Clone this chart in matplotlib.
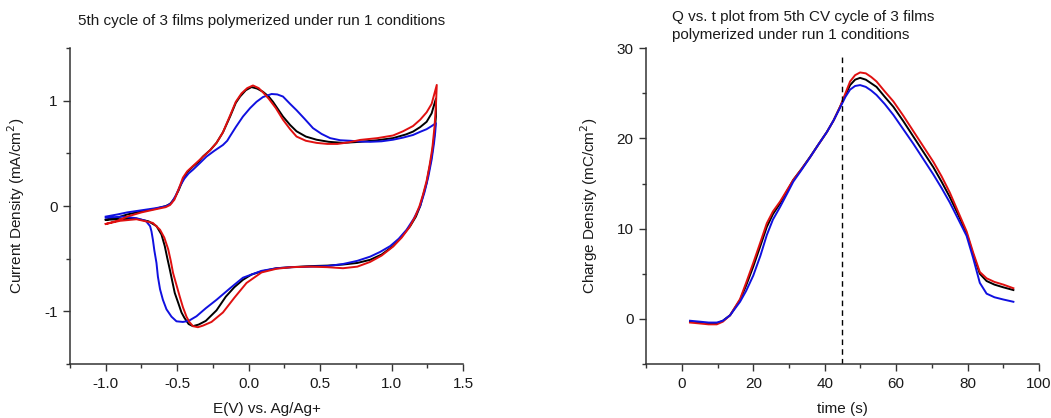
import matplotlib

matplotlib.use("Agg")
import matplotlib.pyplot as plt
from matplotlib.ticker import MultipleLocator

plt.rcParams["font.family"] = ["Liberation Sans", "DejaVu Sans"]

# 5th CV cycle: potential (V vs Ag/Ag+) and current density (mA/cm^2), anodic sweep then cathodic return
cv_black_e = [-1.00, -0.92, -0.85, -0.75, -0.65, -0.58, -0.55, -0.52, -0.49, -0.46, -0.43, -0.39,
              -0.35, -0.32, -0.27, -0.225, -0.18, -0.13, -0.09, -0.06, -0.02, 0.02, 0.06, 0.10,
              0.14, 0.17, 0.21, 0.24, 0.29, 0.335, 0.40, 0.475, 0.56, 0.66, 0.78, 0.90, 1.01, 1.10,
              1.15, 1.20, 1.245, 1.28, 1.31,
              1.31, 1.30, 1.28, 1.26, 1.245, 1.22, 1.20, 1.17, 1.13, 1.07, 1.01, 0.93, 0.85, 0.76,
              0.66, 0.55, 0.43, 0.30, 0.195, 0.09, 0.02, -0.04, -0.10, -0.16, -0.225, -0.30, -0.35,
              -0.39, -0.42, -0.45, -0.47, -0.49, -0.517, -0.535, -0.552, -0.57, -0.587, -0.61, -0.645,
              -0.70, -0.785, -0.90, -1.00]
cv_black_i = [-0.13, -0.11, -0.08, -0.05, -0.025, 0.00, 0.02, 0.07, 0.15, 0.25, 0.32, 0.375,
              0.42, 0.47, 0.53, 0.60, 0.70, 0.85, 0.98, 1.04, 1.10, 1.13, 1.115, 1.085,
              1.04, 0.99, 0.91, 0.85, 0.77, 0.71, 0.66, 0.63, 0.61, 0.60, 0.61, 0.625, 0.645, 0.68,
              0.707, 0.75, 0.80, 0.88, 1.02,
              0.85, 0.68, 0.47, 0.33, 0.22, 0.10, 0.00, -0.10, -0.19, -0.29, -0.38, -0.46, -0.51, -0.54,
              -0.555, -0.565, -0.57, -0.58, -0.59, -0.62, -0.65, -0.70, -0.77, -0.86, -0.99, -1.09, -1.125,
              -1.14, -1.12, -1.06, -1.01, -0.93, -0.825, -0.71, -0.60, -0.49, -0.38, -0.27, -0.19,
              -0.145, -0.12, -0.125, -0.13]

cv_red_e = [-1.00, -0.92, -0.85, -0.75, -0.65, -0.58, -0.55, -0.52, -0.49, -0.46, -0.43, -0.39,
            -0.35, -0.31, -0.27, -0.225, -0.18, -0.13, -0.09, -0.05, -0.01, 0.03, 0.07, 0.10,
            0.14, 0.19, 0.24, 0.29, 0.335, 0.40, 0.475, 0.55, 0.62, 0.70, 0.78, 0.90, 1.01, 1.08,
            1.15, 1.20, 1.245, 1.28, 1.316,
            1.31, 1.30, 1.285, 1.265, 1.245, 1.22, 1.195, 1.165, 1.125, 1.07, 1.01, 0.93, 0.85, 0.76,
            0.66, 0.55, 0.43, 0.30, 0.195, 0.09, -0.015, -0.10, -0.18, -0.26, -0.32, -0.355, -0.39,
            -0.415, -0.435, -0.46, -0.482, -0.505, -0.529, -0.545, -0.563, -0.59, -0.62, -0.67,
            -0.785, -0.90, -1.00]
cv_red_i = [-0.17, -0.14, -0.10, -0.06, -0.03, -0.01, 0.01, 0.06, 0.16, 0.27, 0.33, 0.38,
            0.43, 0.48, 0.53, 0.60, 0.70, 0.86, 0.99, 1.07, 1.12, 1.145, 1.12, 1.08,
            1.02, 0.93, 0.82, 0.73, 0.66, 0.62, 0.60, 0.59, 0.59, 0.605, 0.628, 0.645, 0.67, 0.71,
            0.76, 0.82, 0.89, 0.97, 1.15,
            0.95, 0.75, 0.55, 0.38, 0.24, 0.11, 0.00, -0.10, -0.20, -0.30, -0.385, -0.47, -0.53, -0.575,
            -0.59, -0.58, -0.575, -0.58, -0.595, -0.63, -0.73, -0.87, -1.01, -1.10, -1.135, -1.15, -1.14,
            -1.10, -1.05, -0.96, -0.86, -0.75, -0.635, -0.52, -0.41, -0.30, -0.225, -0.16,
            -0.125, -0.14, -0.17]

cv_blue_e = [-1.00, -0.92, -0.85, -0.75, -0.65, -0.575, -0.54, -0.51, -0.48, -0.45, -0.42, -0.39,
             -0.34, -0.295, -0.24, -0.18, -0.15, -0.132, -0.09, -0.04, 0.01, 0.055, 0.10, 0.16,
             0.20, 0.24, 0.29, 0.335, 0.39, 0.45, 0.51, 0.57, 0.64, 0.71, 0.78, 0.85, 0.93, 1.01,
             1.08, 1.15, 1.20, 1.245, 1.275, 1.31,
             1.305, 1.297, 1.28, 1.257, 1.23, 1.20, 1.155, 1.105, 1.05, 0.99, 0.92, 0.85, 0.76, 0.66,
             0.55, 0.43, 0.30, 0.195, 0.09, -0.04, -0.13, -0.225, -0.30, -0.365, -0.42, -0.46, -0.505,
             -0.54, -0.575, -0.60, -0.62, -0.635, -0.645, -0.66, -0.67, -0.68, -0.69, -0.72, -0.785,
             -0.88, -1.00]
cv_blue_i = [-0.10, -0.08, -0.06, -0.04, -0.02, 0.00, 0.03, 0.10, 0.19, 0.26, 0.31, 0.345,
             0.41, 0.47, 0.525, 0.58, 0.62, 0.66, 0.75, 0.85, 0.93, 0.99, 1.035, 1.064,
             1.06, 1.04, 0.97, 0.91, 0.83, 0.74, 0.685, 0.645, 0.625, 0.62, 0.613, 0.61, 0.615, 0.63,
             0.65, 0.675, 0.705, 0.73, 0.755, 0.787,
             0.70, 0.60, 0.44, 0.28, 0.13, 0.00, -0.12, -0.225, -0.31, -0.38, -0.435, -0.48, -0.52, -0.55,
             -0.57, -0.575, -0.58, -0.59, -0.615, -0.68, -0.78, -0.89, -0.97, -1.046, -1.09, -1.10, -1.094,
             -1.05, -0.98, -0.89, -0.79, -0.67, -0.54, -0.42, -0.32, -0.24, -0.19, -0.14, -0.115,
             -0.10, -0.11]

# Integrated charge density (mC/cm^2) against time (s) for the same cycle
q_time = [2.3, 5.0, 7.5, 9.8, 11.5, 13.5, 16.3, 18.0, 20.0, 22.0, 23.8, 25.5, 27.5, 29.5, 31.2,
          33.5, 35.9, 38.2, 40.6, 42.5, 44.3, 45.8, 47.1, 48.5, 49.9, 51.5, 53.0, 54.5, 56.8, 59.2,
          62.0, 64.8, 67.6, 70.4, 72.7, 75.0, 77.3, 79.7, 81.5, 83.4, 85.3, 87.5, 90.0, 92.8]
q_black = [-0.3, -0.4, -0.5, -0.5, -0.2, 0.4, 2.1, 3.7, 5.8, 8.1, 10.2, 11.6, 12.8, 14.2, 15.4,
           16.6, 17.95, 19.3, 20.7, 22.0, 23.5, 24.8, 25.9, 26.5, 26.7, 26.5, 26.1, 25.7, 24.6, 23.5,
           21.9, 20.2, 18.5, 16.8, 15.2, 13.5, 11.6, 9.5, 7.2, 5.0, 4.2, 3.8, 3.5, 3.2]
q_red = [-0.4, -0.5, -0.6, -0.6, -0.3, 0.4, 2.2, 4.0, 6.2, 8.5, 10.6, 11.9, 13.0, 14.3, 15.4,
         16.6, 17.9, 19.3, 20.7, 22.0, 23.5, 25.0, 26.3, 27.0, 27.3, 27.2, 26.8, 26.3, 25.2, 24.1,
         22.5, 20.8, 19.1, 17.4, 15.8, 14.0, 11.9, 9.7, 7.4, 5.2, 4.5, 4.1, 3.8, 3.4]
q_blue = [-0.2, -0.3, -0.4, -0.4, -0.2, 0.4, 1.9, 3.1, 4.8, 7.0, 9.3, 11.0, 12.4, 13.9, 15.2,
          16.5, 17.9, 19.3, 20.7, 22.0, 23.4, 24.6, 25.4, 25.8, 25.9, 25.7, 25.3, 24.8, 23.8, 22.6,
          21.0, 19.4, 17.7, 16.0, 14.5, 12.9, 11.1, 9.2, 6.8, 4.0, 2.8, 2.4, 2.15, 1.9]

switch_time = 44.75
switch_top = 29.1

TEXT = "#1a1a1a"
AXIS = "#333333"
RED = "#e01010"
BLUE = "#1010e0"


def style_axes(ax):
    for side in ("top", "right"):
        ax.spines[side].set_visible(False)
    for side in ("left", "bottom"):
        ax.spines[side].set_color(AXIS)
        ax.spines[side].set_linewidth(1.1)
    ax.tick_params(which="major", direction="out", length=5, width=1.0, colors=AXIS,
                   labelcolor=TEXT, labelsize=11, pad=4)
    ax.tick_params(which="minor", direction="out", length=3, width=1.0, colors=AXIS)


fig = plt.figure(figsize=(10.51, 4.18), dpi=100)
fig.patch.set_facecolor("white")

ax1 = fig.add_axes([0.0666, 0.129, 0.374, 0.756])
ax1.plot(cv_black_e, cv_black_i, color="black", lw=1.4)
ax1.plot(cv_blue_e, cv_blue_i, color=BLUE, lw=1.4)
ax1.plot(cv_red_e, cv_red_i, color=RED, lw=1.4)
ax1.set_xlim(-1.25, 1.5)
ax1.set_ylim(-1.5, 1.5)
ax1.set_xticks([-1.0, -0.5, 0.0, 0.5, 1.0, 1.5])
ax1.set_xticklabels(["-1.0", "-0.5", "0.0", "0.5", "1.0", "1.5"])
ax1.set_yticks([-1, 0, 1])
ax1.set_yticklabels(["-1", "0", "1"])
ax1.xaxis.set_minor_locator(MultipleLocator(0.25))
ax1.yaxis.set_minor_locator(MultipleLocator(0.5))
style_axes(ax1)
ax1.set_xlabel("E(V) vs. Ag/Ag+", fontsize=11, color=TEXT, labelpad=8)
ax1.set_ylabel("Current Density (mA/cm$^2$)", fontsize=11, color=TEXT, labelpad=12)

ax2 = fig.add_axes([0.6147, 0.129, 0.374, 0.756])
ax2.plot(q_time, q_black, color="black", lw=1.4)
ax2.plot(q_time, q_red, color=RED, lw=1.4)
ax2.plot(q_time, q_blue, color=BLUE, lw=1.4)
ax2.plot([switch_time, switch_time], [-5, switch_top], color="black", lw=1.0, ls=(0, (4, 3)))
ax2.set_xlim(-10, 100)
ax2.set_ylim(-5, 30)
ax2.set_xticks([0, 20, 40, 60, 80, 100])
ax2.set_yticks([0, 10, 20, 30])
ax2.xaxis.set_minor_locator(MultipleLocator(10))
ax2.yaxis.set_minor_locator(MultipleLocator(5))
style_axes(ax2)
ax2.set_xlabel("time (s)", fontsize=11, color=TEXT, labelpad=8)
ax2.set_ylabel("Charge Density (mC/cm$^2$)", fontsize=11, color=TEXT, labelpad=12)

fig.text(0.249, 0.95, "5th cycle of 3 films polymerized under run 1 conditions",
         ha="center", va="center", fontsize=11, color=TEXT)
fig.text(0.639, 0.976, "Q vs. t plot from 5th CV cycle of 3 films\npolymerized under run 1 conditions",
         ha="left", va="top", fontsize=11, color=TEXT, linespacing=1.4)

fig.savefig("out.png", dpi=100, facecolor="white")
plt.close(fig)
